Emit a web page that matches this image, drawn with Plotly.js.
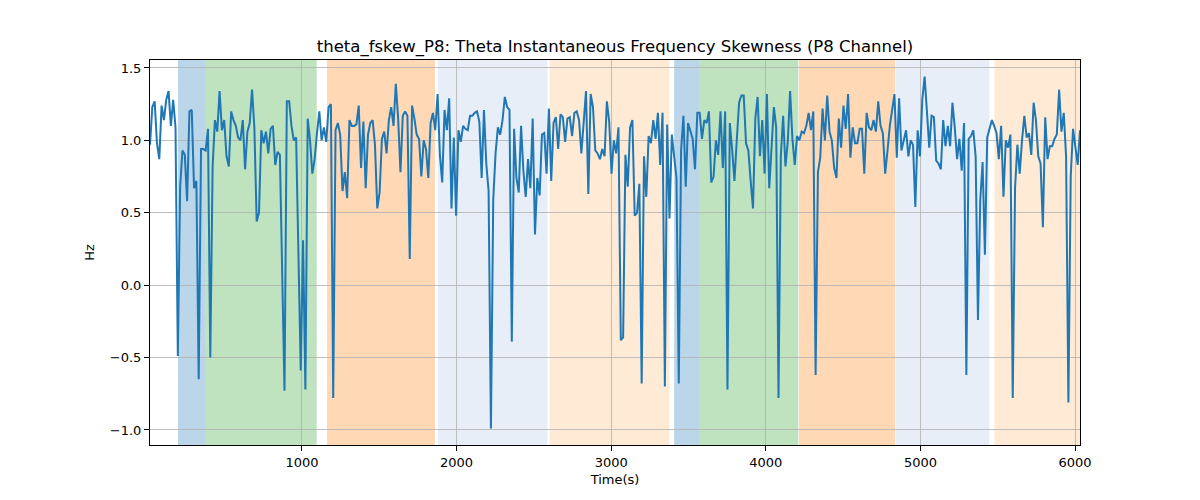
<!DOCTYPE html>
<html>
<head>
<meta charset="utf-8">
<script src="https://cdn.plot.ly/plotly-3.0.1.min.js"></script>
<style>html,body{margin:0;padding:0;background:#fff;}#chart{width:1200px;height:500px;}</style>
</head>
<body>
<div id="chart"></div>
<script>
// Time axis: first sample time and sampling step (seconds)
const T0 = 17;
const DT = 15;

// Theta instantaneous frequency skewness, P8 channel (Hz)
const skewness = [
  0.97,1.23,1.27,0.98,0.87,1.24,1.14,1.28,1.34,1.1,1.28,1.09,-0.49,0.68,0.93,0.9,0.58,1.2,1.21,0.67,0.72,-0.65,0.94,0.94,0.93,1.08,-0.5,0.82,1.14,1.06,1.34,1.07,1.14,0.89,0.82,1.2,1.14,1.1,1.02,1.0,1.14,0.8,1.06,1.12,1.35,1.09,0.44,0.5,1.07,0.98,1.06,0.91,1.08,
  1.1,0.83,0.92,0.9,0.16,-0.73,1.27,1.27,1.1,1.0,1.02,0.3,-0.59,0.31,-0.72,1.15,1.0,0.77,0.87,1.05,1.2,1.0,1.09,0.99,1.23,1.25,-0.78,1.07,1.12,1.04,0.65,0.78,0.6,1.14,1.1,1.1,1.11,1.24,0.81,1.13,0.67,1.04,1.12,1.14,0.97,0.53,0.64,1.01,1.06,
  0.91,1.14,1.23,1.1,1.39,1.15,0.78,1.17,1.2,1.17,0.18,1.24,1.15,1.04,1.01,0.75,1.0,0.94,0.74,1.12,1.19,1.07,1.32,0.9,0.71,1.21,1.07,1.29,0.53,1.02,0.48,1.07,0.99,1.1,1.08,1.07,1.17,1.17,1.19,1.2,1.13,0.74,1.21,0.84,0.65,-0.99,0.59,0.91,1.09,
  1.04,1.14,1.3,1.23,1.21,-0.39,1.08,0.74,0.64,1.1,0.79,0.61,0.87,0.67,1.15,0.35,0.74,0.62,1.04,1.05,0.77,1.22,0.72,1.12,1.16,0.94,1.18,1.16,0.99,1.15,1.16,1.03,1.19,1.2,1.14,0.91,1.15,1.34,0.63,1.32,1.23,0.93,0.91,0.87,0.94,0.89,1.27,1.13,0.77,1.0,
  0.91,1.09,-0.38,-0.36,0.9,0.68,1.09,1.14,0.48,0.5,0.7,-0.68,0.89,0.61,1.03,0.98,1.14,1.01,1.19,0.83,1.19,-0.7,1.11,0.46,1.04,0.89,0.74,-0.68,0.93,1.17,0.68,1.12,1.07,1.01,0.8,1.19,1.19,1.01,1.14,1.12,1.2,0.71,0.75,1.0,0.9,1.2,0.81,1.2,-0.72,1.12,
  0.94,0.72,1.0,1.26,1.31,1.31,0.98,0.93,0.72,0.53,1.15,1.3,0.89,1.14,0.77,1.32,0.67,0.93,1.23,1.09,-0.78,0.89,1.17,0.82,0.99,1.34,1.01,0.83,1.03,1.0,1.06,1.05,1.1,1.19,1.07,1.2,-0.62,0.78,0.88,1.22,1.0,1.31,1.06,1.0,0.81,0.74,1.15,0.95,1.24,
  1.08,1.32,0.88,1.09,0.98,0.98,1.08,1.08,0.77,1.19,1.09,1.07,1.14,1.06,1.27,1.1,1.05,0.77,0.93,1.1,1.21,1.32,0.88,1.29,0.93,1.01,1.07,0.89,1.0,0.97,0.54,1.07,0.89,1.28,1.44,1.2,0.95,1.17,1.16,0.86,0.84,0.8,1.14,0.96,1.1,0.96,1.26,1.09,0.87,1.01,
  0.79,1.12,-0.62,1.01,1.03,1.07,0.89,-0.24,0.59,0.85,0.21,1.02,1.08,1.14,1.1,1.05,0.87,1.1,0.61,1.0,0.95,1.04,-0.78,0.67,0.97,0.77,1.0,1.17,1.02,1.05,0.9,1.26,1.14,0.89,0.84,0.4,1.16,0.87,0.96,0.96,1.01,1.04,1.35,1.06,1.19,0.89,-0.81,0.75,1.08,0.97,0.83,1.07
];

// Shaded phase intervals (seconds) and their colours
const spanStarts = [198, 375, 1162, 1878, 2603, 3407, 3569, 4214, 4842, 5478];
const spanEnds   = [375, 1095, 1860, 2587, 3377, 3569, 4210, 4837, 5445, 6040];
const spanColors = ['#1f77b4','#2ca02c','#ff7f0e','#aec7e8','#ffbb78','#1f77b4','#2ca02c','#ff7f0e','#aec7e8','#ffbb78'];

const xTicks = [1000, 2000, 3000, 4000, 5000, 6000];
const yTicks = [-1.0, -0.5, 0.0, 0.5, 1.0, 1.5];

const times = skewness.map((_, i) => T0 + i * DT);
const tMax = times[times.length - 1];

const shapes = spanStarts.map((s, i) => ({
  type: 'rect', xref: 'x', yref: 'paper',
  x0: s, x1: Math.min(spanEnds[i], tMax), y0: 0, y1: 1,
  fillcolor: spanColors[i], opacity: 0.3, line: {width: 0}, layer: 'below'
}));

const font = {family: 'DejaVu Sans, sans-serif', color: '#000'};
const fmtY = v => (v < 0 ? '\u2212' : '') + Math.abs(v).toFixed(1);

const layout = {
  width: 1200, height: 500,
  margin: {l: 150, r: 120, t: 60, b: 55},
  paper_bgcolor: '#fff', plot_bgcolor: 'rgba(0,0,0,0)',
  showlegend: false,
  font: Object.assign({size: 13}, font),
  title: {text: 'theta_fskew_P8: Theta Instantaneous Frequency Skewness (P8 Channel)',
          font: Object.assign({size: 16.5}, font), x: 0.5125, xanchor: 'center', y: 0.908, yanchor: 'middle'},
  xaxis: {
    range: [T0, tMax], tickvals: xTicks, ticktext: xTicks.map(String),
    showgrid: true, gridcolor: '#b0b0b0', gridwidth: 0.8,
    showline: true, mirror: true, linecolor: '#000', linewidth: 1,
    ticks: 'outside', ticklen: 5, tickcolor: '#000', zeroline: false,
    tickfont: Object.assign({size: 13}, font),
    title: {text: 'Time(s)', font: Object.assign({size: 13}, font), standoff: 6}
  },
  yaxis: {
    range: [-1.104, 1.555], tickvals: yTicks, ticktext: yTicks.map(fmtY),
    showgrid: true, gridcolor: '#b0b0b0', gridwidth: 0.8,
    showline: true, mirror: true, linecolor: '#000', linewidth: 1,
    ticks: 'outside', ticklen: 5, tickcolor: '#000', zeroline: false,
    tickfont: Object.assign({size: 13}, font),
    title: {text: 'Hz', font: Object.assign({size: 13}, font), standoff: 12}
  },
  shapes: shapes
};

Plotly.newPlot('chart', [{
  x: times, y: skewness, type: 'scatter', mode: 'lines',
  line: {color: '#1f77b4', width: 2}, hoverinfo: 'x+y'
}], layout, {displayModeBar: false, staticPlot: true});
</script>
</body>
</html>
